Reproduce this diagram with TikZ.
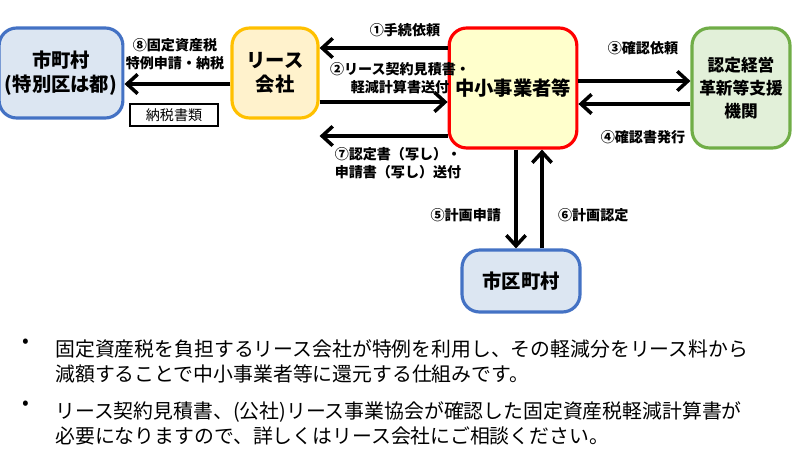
\documentclass[tikz,border=0pt]{standalone}
\usepackage{fontspec}
\setmainfont{Noto Sans CJK JP}
\usetikzlibrary{arrows.meta,positioning}
\definecolor{bluebd}{HTML}{4472C4}
\definecolor{bluefl}{HTML}{DCE6F2}
\definecolor{orangebd}{HTML}{FFC000}
\definecolor{orangefl}{HTML}{FFF2CC}
\definecolor{yellowfl}{HTML}{FFFFCC}
\definecolor{greenbd}{HTML}{70AD47}
\definecolor{greenfl}{HTML}{E2F0D9}
\tikzset{
	party/.style={
		rectangle,
		rounded corners=10pt,
		line width=1.8pt,
		align=center,
		font=\fontsize{11}{13.5}\selectfont\bfseries
	},
	flow/.style={line width=2pt,-{Straight Barb[length=6pt,width=11pt]}},
	flowlabel/.style={align=center, font=\fontsize{8}{10}\selectfont\bfseries, inner sep=1pt},
	note/.style={anchor=north west, align=left, font=\fontsize{11.3}{14.2}\selectfont, inner sep=0pt}
}
\begin{document}
\begin{tikzpicture}[x=0.02cm,y=-0.02cm]
	\useasboundingbox (0,0) rectangle (800,459);
	% parties
	\node (city) [party, draw=bluebd, fill=bluefl, minimum width=2.26cm, minimum height=1.8cm] at (61,73) {市町村\\(特別区は都)};
	\node (lease) [party, draw=orangebd, fill=orangefl, minimum width=1.72cm, minimum height=1.8cm] at (275,73) {リース\\会社};
	\node (sme) [party, draw=red, fill=yellowfl, minimum width=2.06cm, minimum height=2.4cm] at (513,88) {中小事業者等};
	\node (support) [party, draw=greenbd, fill=greenfl, minimum width=1.96cm, minimum height=2.4cm, font=\fontsize{9.5}{13}\selectfont\bfseries] at (741,88) {認定経営\\革新等支援\\機関};
	\node (taxdoc) [draw, line width=1.6pt, minimum width=1.76cm, minimum height=0.44cm, inner sep=0pt, font=\fontsize{8}{10}\selectfont] at (174,115) {納税書類};
	\node (ward) [party, draw=bluebd, fill=bluefl, minimum width=2.36cm, minimum height=1.24cm] at (521,281) {市区町村};
	% flows
	\draw [flow] (sme.west |- 0,48) -- (lease.east |- 0,48);
	\node [flowlabel] at (405,30) {①手続依頼};
	\draw [flow] (lease.east |- 0,102) -- (sme.west |- 0,102);
	\node [flowlabel] at (400,78) {②リース契約見積書・\\軽減計算書送付};
	\draw [flow] (sme.west |- 0,136) -- (lease.east |- 0,136);
	\node [flowlabel] at (398,163) {⑦認定書（写し）・\\申請書（写し）送付};
	\draw [flow] (sme.east |- 0,81) -- (support.west |- 0,81);
	\node [flowlabel] at (643,48) {③確認依頼};
	\draw [flow] (support.west |- 0,104) -- (sme.east |- 0,104);
	\node [flowlabel] at (643,137) {④確認書発行};
	\draw [flow] (lease.west |- 0,84) -- (city.east |- 0,84);
	\node [flowlabel] at (175,54) {⑧固定資産税\\特例申請・納税};
	\draw [flow] (sme.south -| 516,0) -- (ward.north -| 516,0);
	\node [flowlabel, anchor=east] at (503,215) {⑤計画申請};
	\draw [flow] (ward.north -| 542,0) -- (sme.south -| 542,0);
	\node [flowlabel, anchor=west] at (556,215) {⑥計画認定};
	% notes
	\node (b1) [note] at (22,339) {•};
	\node (t1) [note] at (55,339) {固定資産税を負担するリース会社が特例を利用し、その軽減分をリース料から\\減額することで中小事業者等に還元する仕組みです。};
	\node (b2) [note] at (22,401) {•};
	\node (t2) [note] at (55,401) {リース契約見積書、(公社)リース事業協会が確認した固定資産税軽減計算書が\\必要になりますので、詳しくはリース会社にご相談ください。};
\end{tikzpicture}
\end{document}
